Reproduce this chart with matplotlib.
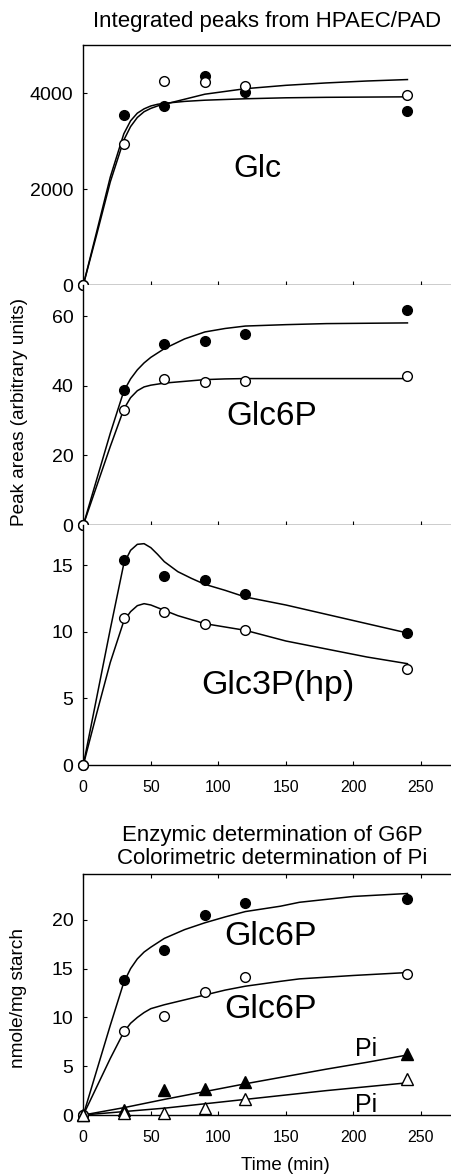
import numpy as np
import matplotlib.pyplot as plt

plt.rcParams["font.family"] = ["Liberation Sans", "DejaVu Sans"]

# sampling times (min)
t_pts = [0, 30, 60, 90, 120, 240]

# panel 1: Glc (HPAEC/PAD peak areas)
glc_filled = [0, 3537, 3733, 4351, 4021, 3621]
glc_open = [0, 2947, 4246, 4232, 4140, 3965]
glc_fit_t = [0, 10, 20, 30, 35, 40, 45, 50, 55, 60, 75, 90, 120, 150, 180, 210, 240]
glc_fit_a = [0, 1120, 2250, 3150, 3420, 3580, 3670, 3730, 3765, 3785, 3825, 3850, 3880,
             3900, 3910, 3915, 3920]
glc_fit_b = [0, 1060, 2150, 3020, 3300, 3490, 3610, 3680, 3730, 3765, 3870, 3975, 4090,
             4160, 4210, 4250, 4280]

# panel 2: Glc6P
g6p_filled = [0, 38.8, 52.0, 52.9, 54.8, 61.7]
g6p_open = [0, 33.0, 41.9, 41.0, 41.4, 42.8]
g6p_fit_t = [0, 10, 20, 30, 35, 40, 45, 50, 60, 75, 90, 105, 120, 150, 180, 240]
g6p_fit_filled = [0, 13.2, 26.4, 38.5, 42.0, 44.6, 46.6, 48.2, 50.7, 53.5, 55.5, 56.5,
                  57.2, 57.6, 57.9, 58.1]
g6p_fit_open = [0, 11.3, 22.6, 33.3, 36.6, 38.6, 39.7, 40.2, 40.8, 41.3, 41.8, 42.0,
                42.1, 42.1, 42.1, 42.1]

# panel 3: Glc3P(hp)
g3p_filled = [0, 15.4, 14.2, 13.9, 12.8, 9.9]
g3p_open = [0, 11.0, 11.5, 10.6, 10.1, 7.2]
g3p_fit_t = [0, 10, 20, 30, 35, 40, 45, 50, 55, 60, 70, 80, 90, 105, 120, 150, 180, 210, 240]
g3p_fit_filled = [0, 5.1, 10.2, 15.1, 16.1, 16.55, 16.6, 16.3, 15.8, 15.25, 14.5, 14.0,
                  13.55, 13.1, 12.6, 12.0, 11.3, 10.6, 9.9]
g3p_fit_open = [0, 3.9, 7.7, 10.8, 11.5, 11.95, 12.1, 12.0, 11.8, 11.6, 11.2, 10.9,
                10.6, 10.35, 10.1, 9.3, 8.7, 8.1, 7.6]

# panel 4: enzymic Glc6P and colorimetric Pi (nmole/mg starch)
e_g6p_filled = [0, 13.85, 16.9, 20.5, 21.7, 22.1]
e_g6p_open = [0, 8.65, 10.1, 12.6, 14.1, 14.4]
pi_filled = [0, 0.5, 2.56, 2.7, 3.4, 6.3]
pi_open = [0, 0.25, 0.25, 0.7, 1.6, 3.65]
e_fit_t = [0, 10, 20, 30, 35, 40, 45, 50, 60, 75, 90, 105, 120, 146, 160, 200, 240]
e_fit_filled = [0, 4.6, 9.2, 13.6, 15.0, 16.0, 16.7, 17.2, 18.1, 19.0, 19.7, 20.3,
                20.85, 21.4, 21.8, 22.4, 22.7]
e_fit_open = [0, 2.9, 5.8, 8.5, 9.4, 10.0, 10.5, 10.9, 11.3, 11.8, 12.3, 12.8, 13.2,
              13.7, 13.95, 14.3, 14.6]
pi_fit_t = [0, 30, 60, 90, 120, 150, 180, 210, 240]
pi_fit_filled = [0, 0.75, 1.6, 2.4, 3.2, 3.95, 4.7, 5.4, 6.15]
pi_fit_open = [0, 0.35, 0.7, 1.15, 1.6, 2.05, 2.5, 2.9, 3.3]

W, H = 452, 1174
fig = plt.figure(figsize=(W / 100, H / 100), dpi=100)


def px_axes(top, bottom, left=83.3, right=452):
    return fig.add_axes([left / W, 1 - bottom / H, (right - left) / W, (bottom - top) / H])


def style(ax, ylim, yticks, xlabels=False, top_ticks=False):
    ax.set_xlim(0, 273)
    ax.set_ylim(*ylim)
    ax.set_yticks(yticks)
    ax.set_xticks([0, 50, 100, 150, 200, 250])
    ax.spines["right"].set_visible(False)
    for s in ax.spines.values():
        s.set_linewidth(1.0)
    ax.tick_params(axis="y", direction="in", length=3, width=0.8, labelsize=14, pad=7)
    ax.tick_params(axis="x", direction="in", length=3, width=0.8, labelsize=11.5, pad=11,
                   labelbottom=xlabels, top=top_ticks)


def pts(ax, y, marker, filled, ms):
    ax.plot(t_pts, y, linestyle="", marker=marker, markersize=ms,
            markerfacecolor="black" if filled else "white", markeredgecolor="black",
            markeredgewidth=1.0, clip_on=False, zorder=3)


def fit(ax, x, y):
    ax.plot(x, y, color="black", lw=1.1, zorder=2)


# panel 1
ax1 = px_axes(45, 285)
style(ax1, (0, 5000), [0, 2000, 4000])
fit(ax1, glc_fit_t, glc_fit_a)
fit(ax1, glc_fit_t, glc_fit_b)
pts(ax1, glc_filled, "o", True, 7)
pts(ax1, glc_open, "o", False, 7)
ax1.text(128.7, 2252, "Glc", fontsize=23, ha="center", va="baseline")

# panel 2
ax2 = px_axes(285, 525)
style(ax2, (0, 69), [0, 20, 40, 60])
ax2.spines["top"].set_visible(False)
fit(ax2, g6p_fit_t, g6p_fit_filled)
fit(ax2, g6p_fit_t, g6p_fit_open)
pts(ax2, g6p_filled, "o", True, 7)
pts(ax2, g6p_open, "o", False, 7)
ax2.text(139.8, 28.7, "Glc6P", fontsize=24, ha="center", va="baseline")

# panel 3
ax3 = px_axes(525, 765)
style(ax3, (0, 18), [0, 5, 10, 15], xlabels=True)
ax3.spines["top"].set_visible(False)
fit(ax3, g3p_fit_t, g3p_fit_filled)
fit(ax3, g3p_fit_t, g3p_fit_open)
pts(ax3, g3p_filled, "o", True, 7)
pts(ax3, g3p_open, "o", False, 7)
ax3.text(143.9, 5.3, "Glc3P(hp)", fontsize=24.5, ha="center", va="baseline")

# panel 4
ax4 = px_axes(874, 1115)
style(ax4, (0, 24.7), [0, 5, 10, 15, 20], xlabels=True, top_ticks=True)
fit(ax4, e_fit_t, e_fit_filled)
fit(ax4, e_fit_t, e_fit_open)
fit(ax4, pi_fit_t, pi_fit_filled)
fit(ax4, pi_fit_t, pi_fit_open)
pts(ax4, e_g6p_filled, "o", True, 7)
pts(ax4, e_g6p_open, "o", False, 7)
pts(ax4, pi_filled, "^", True, 8)
pts(ax4, pi_open, "^", False, 8)
ax4.text(138.7, 17.4, "Glc6P", fontsize=24.5, ha="center", va="baseline")
ax4.text(138.7, 9.9, "Glc6P", fontsize=24.5, ha="center", va="baseline")
ax4.text(209.4, 6.0, "Pi", fontsize=18, ha="center", va="baseline")
ax4.text(209.4, 0.27, "Pi", fontsize=18, ha="center", va="baseline")

# titles and axis labels
fig.text(267.5 / W, 1 - 22 / H, "Integrated peaks from HPAEC/PAD", fontsize=16,
         ha="center", va="center")
fig.text(272.7 / W, 1 - 835 / H, "Enzymic determination of G6P", fontsize=16,
         ha="center", va="center")
fig.text(272.5 / W, 1 - 858 / H, "Colorimetric determination of Pi", fontsize=16,
         ha="center", va="center")
fig.text(20 / W, 1 - 412 / H, "Peak areas (arbitrary units)", fontsize=13.7,
         rotation=90, ha="center", va="center")
fig.text(19 / W, 1 - 998 / H, "nmole/mg starch", fontsize=13.7,
         rotation=90, ha="center", va="center")
fig.text(285 / W, 1 - 1165 / H, "Time (min)", fontsize=13.5, ha="center", va="center")

plt.savefig("out.png", dpi=100)
plt.close()
